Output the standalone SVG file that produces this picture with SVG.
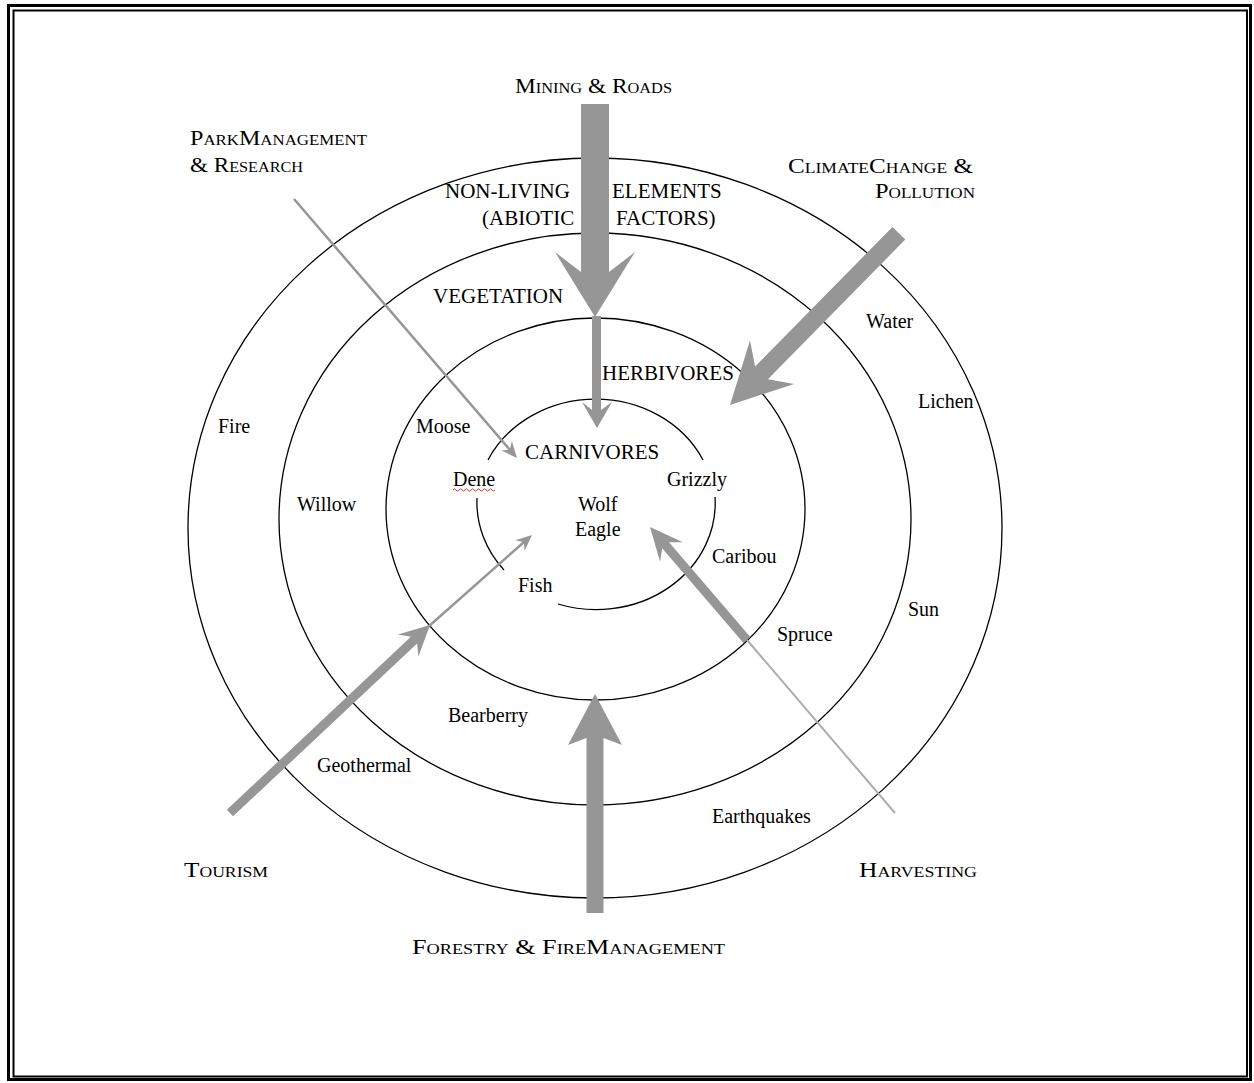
<svg xmlns="http://www.w3.org/2000/svg" width="1254" height="1083" viewBox="0 0 1254 1083">
<style>
.ring{fill:none;stroke:#000;stroke-width:1.3}
.t{font-family:"Liberation Serif","Times New Roman",serif;font-size:20px;fill:#000}
.u{font-family:"Liberation Serif","Times New Roman",serif;font-size:21px;fill:#000}
.sc{font-family:"Liberation Serif","Times New Roman",serif;font-size:20px;font-variant:small-caps;fill:#000}
.ah{fill:#969696}
.ln{fill:none;stroke:#969696;stroke-width:2.5}
.ln2{fill:none;stroke:#adadad;stroke-width:2}
</style>
<rect width="1254" height="1083" fill="#fff"/>
<g id="frame" fill="none" stroke="#000">
  <rect x="8.5" y="5.5" width="1242" height="1074" stroke-width="3"/>
  <rect x="13.5" y="10.5" width="1233.5" height="1066" stroke-width="2"/>
</g>
<g id="ring-abiotic">
  <ellipse class="ring" cx="595" cy="528" rx="407" ry="370"/>
  <text class="u"><tspan x="445" y="198">NON-LIVING</tspan><tspan x="612" y="198">ELEMENTS</tspan></text>
  <text class="u"><tspan x="482" y="225">(ABIOTIC</tspan><tspan x="616" y="225">FACTORS)</tspan></text>
  <text class="t" x="218" y="433">Fire</text>
  <text class="t" x="866" y="328">Water</text>
  <text class="t" x="918" y="408">Lichen</text>
  <text class="t" x="908" y="616">Sun</text>
  <text class="t" x="317" y="772">Geothermal</text>
  <text class="t" x="712" y="823">Earthquakes</text>
</g>
<g id="ring-vegetation">
  <ellipse class="ring" cx="595" cy="519" rx="316" ry="286"/>
  <text class="u" x="433" y="303">VEGETATION</text>
  <text class="t" x="297" y="511">Willow</text>
  <text class="t" x="777" y="641">Spruce</text>
  <text class="t" x="448" y="722">Bearberry</text>
</g>
<g id="ring-herbivores">
  <ellipse class="ring" cx="595.5" cy="509" rx="209.5" ry="191"/>
  <text class="u" x="602" y="380">HERBIVORES</text>
  <text class="t" x="416" y="433">Moose</text>
  <text class="t" x="712" y="563">Caribou</text>
</g>
<g id="ring-carnivores">
  <path class="ring" d="M488 460 A119 106.5 0 0 1 703 460 M715 497 A119 106.5 0 0 1 558 604 M477 498 A119 106.5 0 0 0 504 570"/>
  <text class="u" x="525" y="459">CARNIVORES</text>
  <text class="t" x="453" y="486">Dene</text>
  <path d="M453 490 q1.5 -2.2 3 0 t3 0 t3 0 t3 0 t3 0 t3 0 t3 0 t3 0 t3 0 t3 0 t3 0 t3 0 t3 0 t3 0" fill="none" stroke="#e03030" stroke-width="1"/>
  <text class="t" x="667" y="486">Grizzly</text>
  <text class="t" x="578" y="511">Wolf</text>
  <text class="t" x="575" y="536">Eagle</text>
  <text class="t" x="518" y="592">Fish</text>
</g>
<g id="connectors">
  <polygon class="ah" points="581,104 609,104 609,272 635,252 595,317 555,252 581,272"/>
  <polygon class="ah" points="592,316 601,316 601,410 612,402 597,428 582,402 592,410"/>
  <polygon class="ah" points="892.5,226.9 905.3,239.5 767.9,379.2 794.2,383.9 730,405 750,340.5 755.1,366.6"/>
  <polygon class="ah" points="586.5,913 603.5,913 603.5,738 622,745 595,694 568,745 586.5,738"/>
  <polygon class="ah" points="226.9,809.7 233.1,816.3 417.1,643.4 418.4,656.5 430,625 397.9,634.6 410.9,636.8"/>
  <line class="ln" x1="428" y1="627" x2="524" y2="542"/>
  <polygon class="ah" points="532,535 524.6,550.8 523.8,542.3 515.4,540.3"/>
  <line class="ln" x1="294" y1="199" x2="510" y2="450"/>
  <polygon class="ah" points="517,458 501.3,450.4 509.8,449.7 511.9,441.3"/>
  <line class="ln2" x1="747" y1="640" x2="895" y2="813"/>
  <polygon class="ah" points="743.5,642.9 750.3,637.1 669,542.3 682.9,542.3 650,527 660.1,561.8 662.2,548.2"/>
</g>
<g id="influence-mining"><text class="sc" x="515" y="93" textLength="157" lengthAdjust="spacingAndGlyphs">Mining &amp; Roads</text></g>
<g id="influence-park">
  <text class="sc" x="190" y="145" textLength="177" lengthAdjust="spacingAndGlyphs">ParkManagement</text>
  <text class="sc" x="190" y="172" textLength="113" lengthAdjust="spacingAndGlyphs">&amp; Research</text>
</g>
<g id="influence-climate">
  <text class="sc" x="788" y="173" textLength="185" lengthAdjust="spacingAndGlyphs">ClimateChange &amp;</text>
  <text class="sc" x="875" y="198" textLength="100" lengthAdjust="spacingAndGlyphs">Pollution</text>
</g>
<g id="influence-tourism"><text class="sc" x="184" y="877" textLength="84" lengthAdjust="spacingAndGlyphs">Tourism</text></g>
<g id="influence-harvesting"><text class="sc" x="859" y="877" textLength="118" lengthAdjust="spacingAndGlyphs">Harvesting</text></g>
<g id="influence-forestry"><text class="sc" x="412" y="954" textLength="313" lengthAdjust="spacingAndGlyphs">Forestry &amp; FireManagement</text></g>
</svg>
